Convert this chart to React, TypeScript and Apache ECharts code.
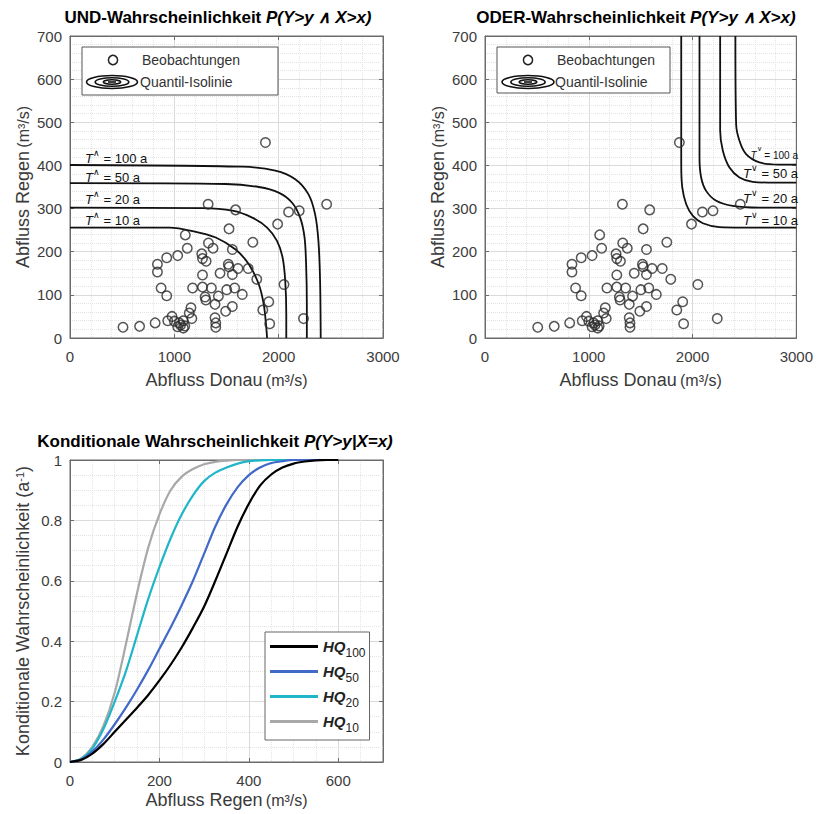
import React, { useEffect, useRef } from "react";
import * as echarts from "echarts";

const FONT = "'Liberation Sans', Arial, Helvetica, sans-serif";

// ---------- Observations (Abfluss Donau, Abfluss Regen) ----------
const obsDonau = [1873, 1324, 1587, 2095, 2197, 2460, 1990, 1524, 1105, 1752, 1327, 1371, 1556, 1124, 1032, 927, 1263, 1270, 1305, 838, 838, 1517, 1524, 1610, 1708, 1438, 1556, 1270, 1790, 873, 1175, 1270, 1355, 1502, 1578, 2051, 927, 1295, 1422, 1651, 1302, 1390, 1556, 1492, 1848, 1905, 1159, 1143, 978, 937, 1000, 1048, 1086, 1168, 1032, 1086, 1390, 1397, 1397, 816, 667, 508, 1914, 2238, 1060, 1100];
const obsRegen = [453, 310, 297, 292, 295, 310, 264, 253, 239, 222, 220, 208, 205, 208, 191, 186, 195, 184, 178, 171, 153, 171, 165, 161, 161, 150, 147, 146, 136, 116, 116, 118, 116, 112, 116, 124, 98, 95, 97, 101, 88, 78, 73, 62, 65, 84, 70, 58, 50, 40, 39, 35, 40, 45, 26, 23, 47, 35, 25, 35, 27, 25, 33, 45, 30, 28];

// ---------- UND isolines [Donau, Regen] ----------
const undT10 = [[0, 256], [952, 256], [1175, 248], [1397, 233], [1587, 205], [1714, 171], [1810, 124], [1857, 78], [1879, 31], [1889, 0]];
const undT20 = [[0, 302], [1270, 301], [1556, 295], [1746, 279], [1889, 256], [1984, 225], [2038, 186], [2063, 132], [2073, 54], [2073, 0]];
const undT50 = [[0, 359], [1492, 357], [1810, 350], [2000, 337], [2127, 314], [2206, 279], [2248, 233], [2263, 171], [2270, 78], [2270, 0]];
const undT100 = [[0, 401], [1651, 397], [1968, 388], [2159, 368], [2286, 333], [2349, 287], [2381, 225], [2397, 132], [2403, 0]];

// ---------- ODER isolines [Donau, Regen] ----------
const oderT10 = [[1891, 700], [1891, 403], [1901, 349], [1939, 310], [2003, 283], [2099, 266], [2260, 257], [2484, 256], [3000, 256]];
const oderT20 = [[2067, 700], [2067, 419], [2083, 372], [2131, 341], [2228, 318], [2388, 306], [2644, 302], [3000, 302]];
const oderT50 = [[2266, 700], [2266, 481], [2292, 434], [2356, 395], [2452, 372], [2580, 362], [2804, 360], [3000, 360]];
const oderT100 = [[2413, 700], [2420, 496], [2452, 457], [2516, 426], [2644, 407], [2837, 402], [3000, 402]];

const returnPeriods = ["100", "50", "20", "10"];

// ---------- Conditional probability curves (Abfluss Regen every 25 m³/s) ----------
const regenGrid = [0, 25, 50, 75, 100, 125, 150, 175, 200, 225, 250, 275, 300, 325, 350, 375, 400, 425, 450, 475, 500, 525, 550, 575, 600];
const hq100P = [0, 0.007, 0.028, 0.06, 0.1, 0.14, 0.18, 0.222, 0.27, 0.322, 0.38, 0.445, 0.515, 0.6, 0.69, 0.78, 0.855, 0.915, 0.952, 0.975, 0.988, 0.995, 0.999, 1, 1];
const hq50P = [0, 0.008, 0.035, 0.075, 0.125, 0.18, 0.24, 0.305, 0.375, 0.445, 0.52, 0.6, 0.69, 0.78, 0.853, 0.91, 0.95, 0.975, 0.99, 0.996, 1, 1, 1, 1, 1];
const hq20P = [0, 0.01, 0.045, 0.11, 0.2, 0.3, 0.42, 0.54, 0.645, 0.74, 0.82, 0.883, 0.93, 0.958, 0.975, 0.988, 0.996, 0.999, 1, 1, 1, 1, 1, 1, 1];
const hq10P = [0, 0.012, 0.05, 0.12, 0.23, 0.39, 0.56, 0.71, 0.82, 0.9, 0.945, 0.97, 0.986, 0.994, 0.998, 1, 1, 1, 1, 1, 1, 1, 1, 1, 1];
const hqNames = ["HQ100", "HQ50", "HQ20", "HQ10"];
const hqColors = ["#000000", "#4169c8", "#1fb6c8", "#a8a8a8"];

const zip = (xs: number[], ys: number[]) => xs.map((x, i) => [x, ys[i]]);

const AXIS_COLOR = "#6b6b6b";
const unitRich = {
  n: { fontSize: 18, fontFamily: FONT, color: "#3a3a3a" },
  u: { fontSize: 16, fontFamily: FONT, color: "#3a3a3a" },
  sup: { fontSize: 11, fontFamily: FONT, color: "#3a3a3a", verticalAlign: "top", lineHeight: 10 },
};

function mainAxis(dim: "x" | "y", gridIndex: number, max: number, interval: number, name: string, nameGap: number, minorSplit: number, hideMax = false) {
  return {
    type: "value",
    gridIndex,
    position: dim === "x" ? "bottom" : "left",
    min: 0,
    max,
    interval,
    name,
    nameLocation: "middle",
    nameGap,
    nameTextStyle: { rich: unitRich },
    axisLine: { show: true, onZero: false, lineStyle: { color: AXIS_COLOR, width: 1 } },
    axisTick: { show: true, inside: true, length: 4, lineStyle: { color: AXIS_COLOR } },
    axisLabel: {
      fontSize: 15,
      color: "#3c3c3c",
      fontFamily: FONT,
      margin: dim === "x" ? 11 : 8,
      showMaxLabel: !hideMax,
      formatter: (v: number) => String(v),
    },
    splitLine: { show: true, lineStyle: { color: "#dadada", width: 1 } },
    minorTick: { show: false, splitNumber: minorSplit },
    minorSplitLine: { show: true, lineStyle: { color: "#e4e4e4", type: "dotted", width: 1 } },
  };
}

function mirrorAxis(dim: "x" | "y", gridIndex: number, max: number, interval: number) {
  return {
    type: "value",
    gridIndex,
    position: dim === "x" ? "top" : "right",
    min: 0,
    max,
    interval,
    axisLine: { show: true, onZero: false, lineStyle: { color: AXIS_COLOR, width: 1 } },
    axisTick: { show: true, inside: true, length: 4, lineStyle: { color: AXIS_COLOR } },
    axisLabel: { show: false },
    splitLine: { show: false },
  };
}

function isoLine(data: number[][], axisIndex: number) {
  return {
    type: "line",
    xAxisIndex: axisIndex,
    yAxisIndex: axisIndex,
    data,
    showSymbol: false,
    symbol: "none",
    smooth: 0.3,
    silent: true,
    lineStyle: { color: "#111", width: 1.8 },
    z: 3,
  };
}

function scatter(axisIndex: number) {
  return {
    type: "scatter",
    xAxisIndex: axisIndex,
    yAxisIndex: axisIndex,
    data: zip(obsDonau, obsRegen),
    symbol: "circle",
    symbolSize: 9.5,
    silent: true,
    itemStyle: { color: "rgba(0,0,0,0)", borderColor: "#2a2a2a", borderWidth: 1.5 },
    z: 4,
  };
}

const tRich = (size: number) => ({
  t: { fontSize: size, fontStyle: "italic", fontFamily: FONT, fill: "#111", lineHeight: 20 },
  s: { fontSize: Math.round(size * 0.7), fontFamily: FONT, fill: "#111", lineHeight: 10, verticalAlign: "top" },
  n: { fontSize: size, fontFamily: FONT, fill: "#111", lineHeight: 20 },
});

function tLabel(x: number, y: number, sym: string, val: string, align: string, size: number) {
  return {
    type: "text",
    x,
    y,
    z: 10,
    style: {
      text: `{t|T}{s|${sym}}{n| = ${val} a}`,
      rich: tRich(size),
      align,
      verticalAlign: "middle",
    },
  };
}

function legendBox(bx: number, by: number, bw: number, bh: number, markX: number, textX: number, ellX: number, ellRx: number) {
  const ln = { fill: "none", stroke: "#111", lineWidth: 1.6 };
  const txt = { fontSize: 14, fontFamily: FONT, fill: "#333", verticalAlign: "middle" };
  return [
    { type: "rect", z: 20, shape: { x: bx, y: by, width: bw, height: bh }, style: { fill: "#fff", stroke: "#555", lineWidth: 1 } },
    { type: "circle", z: 21, shape: { cx: markX, cy: by + 13, r: 4.6 }, style: { fill: "none", stroke: "#222", lineWidth: 1.5 } },
    { type: "text", z: 21, x: textX, y: by + 13, style: { text: "Beobachtungen", ...txt } },
    { type: "ellipse", z: 21, shape: { cx: ellX, cy: by + 35, rx: ellRx, ry: 6.5 }, style: ln },
    { type: "ellipse", z: 21, shape: { cx: ellX, cy: by + 35, rx: ellRx * 0.66, ry: 4.3 }, style: ln },
    { type: "ellipse", z: 21, shape: { cx: ellX, cy: by + 35, rx: ellRx * 0.34, ry: 2.2 }, style: ln },
    { type: "line", z: 21, shape: { x1: ellX - 4, y1: by + 35, x2: ellX + 4, y2: by + 35 }, style: { stroke: "#111", lineWidth: 1.6 } },
    { type: "text", z: 21, x: textX - 2, y: by + 35, style: { text: "Quantil-Isolinie", ...txt } },
  ];
}

function titleText(x: number, y: number, a: string, b: string) {
  return {
    type: "text",
    x,
    y,
    z: 10,
    style: {
      text: `{b|${a}}{i|${b}}`,
      rich: {
        b: { fontSize: 17, fontWeight: "bold", fontFamily: FONT, fill: "#000" },
        i: { fontSize: 17, fontWeight: "bold", fontStyle: "italic", fontFamily: FONT, fill: "#000" },
      },
      align: "center",
      verticalAlign: "middle",
    },
  };
}

export default function App() {
  const ref = useRef<HTMLDivElement>(null);
  useEffect(() => {
    document.body.style.margin = "0";
    const chart = echarts.init(ref.current!, null, { renderer: "svg" });
    const hqData = [hq100P, hq50P, hq20P, hq10P];
    const option: any = {
      animation: false,
      backgroundColor: "#fff",
      grid: [
        { left: 70, top: 36, width: 313, height: 302, show: true, borderColor: AXIS_COLOR, borderWidth: 1, backgroundColor: "#fff" },
        { left: 485, top: 36, width: 312, height: 302, show: true, borderColor: AXIS_COLOR, borderWidth: 1, backgroundColor: "#fff" },
        { left: 70, top: 460, width: 313, height: 302, show: true, borderColor: AXIS_COLOR, borderWidth: 1, backgroundColor: "#fff" },
      ],
      xAxis: [
        mainAxis("x", 0, 3000, 1000, "{n|Abfluss Donau} {u|(m³/s)}", 33, 5),
        mirrorAxis("x", 0, 3000, 1000),
        mainAxis("x", 1, 3000, 1000, "{n|Abfluss Donau} {u|(m³/s)}", 33, 5),
        mirrorAxis("x", 1, 3000, 1000),
        mainAxis("x", 2, 700, 200, "{n|Abfluss Regen} {u|(m³/s)}", 29, 4, true),
        mirrorAxis("x", 2, 700, 200),
      ],
      yAxis: [
        mainAxis("y", 0, 700, 100, "{n|Abfluss Regen} {u|(m³/s)}", 38, 5),
        mirrorAxis("y", 0, 700, 100),
        mainAxis("y", 1, 700, 100, "{n|Abfluss Regen} {u|(m³/s)}", 38, 5),
        mirrorAxis("y", 1, 700, 100),
        mainAxis("y", 2, 1, 0.2, "{n|Konditionale Wahrscheinlichkeit (a}{sup|-1}{n|)}", 38, 4),
        mirrorAxis("y", 2, 1, 0.2),
      ],
      legend: {
        data: hqNames,
        orient: "vertical",
        left: 265,
        top: 632,
        icon: "rect",
        itemWidth: 48,
        itemHeight: 3,
        itemGap: 0,
        selectedMode: false,
        backgroundColor: "#fff",
        borderColor: "#666",
        borderWidth: 1,
        borderRadius: 0,
        padding: [2, 4, 6, 5],
        formatter: (name: string) => `{hq|HQ}{sub|${name.slice(2)}}`,
        textStyle: {
          rich: {
            hq: { fontSize: 15, fontWeight: "bold", fontStyle: "italic", fontFamily: FONT, color: "#222", lineHeight: 27 },
            sub: { fontSize: 12, fontFamily: FONT, color: "#222", lineHeight: 14, padding: [13, 0, 0, 0] },
          },
        },
      },
      series: [
        scatter(0),
        isoLine(undT10, 0),
        isoLine(undT20, 0),
        isoLine(undT50, 0),
        isoLine(undT100, 0),
        scatter(2),
        isoLine(oderT10, 2),
        isoLine(oderT20, 2),
        isoLine(oderT50, 2),
        isoLine(oderT100, 2),
        ...hqNames.map((name, i) => ({
          type: "line",
          name,
          xAxisIndex: 4,
          yAxisIndex: 4,
          data: zip(regenGrid, hqData[i]),
          showSymbol: false,
          symbol: "none",
          smooth: 0.3,
          silent: true,
          lineStyle: { color: hqColors[i], width: 2.2 },
          itemStyle: { color: hqColors[i] },
          z: 3 + (4 - i),
        })),
      ],
      graphic: [
        titleText(218, 17, "UND-Wahrscheinlichkeit ", "P(Y>y ∧ X>x)"),
        titleText(636, 17, "ODER-Wahrscheinlichkeit ", "P(Y>y ∧ X>x)"),
        titleText(215, 441, "Konditionale Wahrscheinlichkeit ", "P(Y>y|X=x)"),
        tLabel(85, 158, "∧", returnPeriods[0], "left", 13),
        tLabel(85, 177, "∧", returnPeriods[1], "left", 13),
        tLabel(85, 199, "∧", returnPeriods[2], "left", 13),
        tLabel(85, 220, "∧", returnPeriods[3], "left", 13),
        tLabel(798, 155, "∨", returnPeriods[0], "right", 10),
        tLabel(798, 173, "∨", returnPeriods[1], "right", 13),
        tLabel(798, 198, "∨", returnPeriods[2], "right", 13),
        tLabel(798, 220, "∨", returnPeriods[3], "right", 13),
        ...legendBox(82, 47, 196, 48, 113, 142, 112, 25.5),
        ...legendBox(497, 47, 173, 46, 528, 557, 528, 26),
      ],
    };
    chart.setOption(option);
    return () => chart.dispose();
  }, []);
  return <div ref={ref} style={{ width: 816, height: 814 }} />;
}
